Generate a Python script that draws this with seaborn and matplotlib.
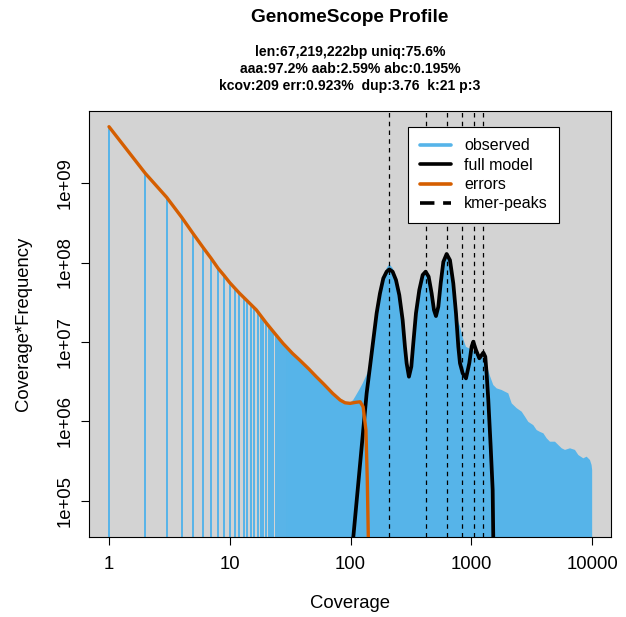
import matplotlib
matplotlib.use("Agg")
import matplotlib.pyplot as plt
from matplotlib.lines import Line2D
from matplotlib.ticker import NullLocator
import seaborn as sns

# ---- text ----
title = "GenomeScope Profile"
summary_lines = [
    "len:67,219,222bp uniq:75.6%",
    "aaa:97.2% aab:2.59% abc:0.195%",
    "kcov:209 err:0.923%  dup:3.76  k:21 p:3",
]
x_label = "Coverage"
y_label = "Coverage*Frequency"
x_ticks = [1, 10, 100, 1000, 10000]
x_tick_labels = ["1", "10", "100", "1000", "10000"]
y_ticks = [1e5, 1e6, 1e7, 1e8, 1e9]
y_tick_labels = ["1e+05", "1e+06", "1e+07", "1e+08", "1e+09"]
legend_labels = ["observed", "full model", "errors", "kmer-peaks"]

# ---- observed histogram: separate low-coverage bins ----
obs_low_cov = list(range(1, 31))
obs_low_val = [5.11e9, 1.32e9, 6.61e8, 3.70e8, 2.28e8, 1.55e8, 1.13e8, 8.45e7,
               6.82e7, 5.57e7, 4.70e7, 4.12e7, 3.66e7, 3.27e7, 2.94e7, 2.67e7,
               2.42e7, 2.15e7, 1.93e7, 1.74e7, 1.58e7, 1.46e7, 1.34e7, 1.24e7,
               1.15e7, 1.07e7, 1.00e7, 9.44e6, 8.95e6, 8.49e6]

# ---- observed histogram: dense part (bins merge into a filled profile) ----
obs_cov = [30, 35, 38, 45, 52, 60, 71, 80, 87, 95, 100, 105, 110, 118, 126,
           135, 145, 154, 164, 175, 187, 199, 209, 223, 238, 253, 270, 282,
           291, 304, 318, 331, 348, 371, 395, 418, 443, 469, 490, 509, 533,
           557, 586, 624, 665, 709, 746, 780, 805, 830, 860, 902, 960, 1026,
           1100, 1164, 1240, 1300, 1350, 1420, 1518, 1620, 1782, 1897, 2022,
           2088, 2157, 2374, 2609, 2780, 2960, 3257, 3472, 3700, 3945, 4200,
           4476, 4922, 5248, 5598, 5960, 6550, 7206, 7680, 8450, 9000, 9590,
           9890, 10000]
obs_val = [8.5e6, 6.7e6, 5.9e6, 4.6e6, 3.66e6, 2.95e6, 2.26e6, 1.95e6, 1.77e6,
           1.72e6, 1.74e6, 1.86e6, 2.09e6, 2.51e6, 3.02e6, 3.80e6, 5.0e6,
           1.07e7, 2.34e7, 4.27e7, 6.76e7, 8.51e7, 9.55e7, 8.51e7, 6.31e7,
           3.89e7, 1.86e7, 8.5e6, 5.25e6, 3.55e6, 4.79e6, 9.3e6, 2.24e7,
           4.47e7, 7.08e7, 7.94e7, 6.76e7, 3.98e7, 2.45e7, 2.04e7, 2.69e7,
           5.5e7, 1.05e8, 1.32e8, 1.10e8, 5.75e7, 2.63e7, 1.78e7, 1.58e7,
           1.29e7, 1.07e7, 8.7e6, 8.3e6, 7.9e6, 7.4e6, 6.6e6, 6.5e6, 5.6e6,
           4.9e6, 3.8e6, 2.88e6, 2.61e6, 2.49e6, 2.37e6, 2.26e6, 1.95e6,
           1.69e6, 1.47e6, 1.33e6, 1.15e6, 9.9e5, 9.0e5, 7.8e5, 7.4e5, 7.1e5,
           6.15e5, 5.57e5, 5.57e5, 5.06e5, 4.6e5, 4.39e5, 4.6e5, 4.39e5,
           3.79e5, 3.44e5, 3.61e5, 3.28e5, 2.84e5, 2.45e5]

# ---- fitted full model ----
model_cov = [103, 105.3, 135.8, 144.8, 154.2, 164.3, 175.1, 186.6, 198.9, 209.4,
             222.9, 237.6, 253.1, 269.8, 281.9, 291.1, 304.2, 318.3, 330.5,
             347.8, 370.6, 395.2, 418.1, 442.8, 468.9, 490.2, 509.2, 532.6,
             557.1, 586.2, 624.0, 665.1, 708.5, 745.9, 779.9, 805.0, 847.3,
             902.4, 961.0, 1005, 1037, 1092, 1164, 1217, 1256, 1304, 1337,
             1381, 1445, 1501, 1518, 1525]
model_val = [2.0e4, 3.5e4, 2.26e6, 4.9e6, 1.06e7, 2.30e7, 4.09e7, 6.32e7, 7.67e7,
             8.2e7, 7.67e7, 6.03e7, 3.90e7, 1.89e7, 8.73e6, 5.40e6, 3.66e6,
             4.90e6, 9.62e6, 2.30e7, 4.51e7, 6.97e7, 7.67e7, 6.64e7, 4.09e7,
             2.53e7, 2.12e7, 2.78e7, 5.47e7, 1.02e8, 1.28e8, 1.07e8, 5.47e7,
             2.30e7, 8.73e6, 5.40e6, 4.04e6, 3.49e6, 5.40e6, 8.73e6, 1.01e7,
             7.92e6, 6.24e6, 6.85e6, 7.35e6, 6.53e6, 4.04e6, 1.86e6, 4.82e5,
             1.38e5, 3.5e4, 2.0e4]

# ---- error k-mer model ----
err_cov = [1, 2, 3, 4, 5, 6, 7, 8, 9, 10, 12, 14, 16.6, 20, 24, 27.6, 33, 38,
           45, 52, 60, 71, 82, 90, 99, 110, 120, 127, 134, 137.5, 140.2, 141]
err_val = [5.11e9, 1.32e9, 6.61e8, 3.70e8, 2.28e8, 1.55e8, 1.13e8, 8.45e7,
           6.82e7, 5.57e7, 4.12e7, 3.27e7, 2.53e7, 1.74e7, 1.24e7, 9.6e6,
           7.2e6, 5.9e6, 4.6e6, 3.66e6, 2.95e6, 2.26e6, 1.86e6, 1.72e6,
           1.69e6, 1.74e6, 1.77e6, 1.53e6, 7.8e5, 1.84e5, 3.5e4, 2.0e4]

# ---- k-mer peak positions (multiples of kcov) ----
peak_cov = [209, 418, 627, 836, 1045, 1254]

COL_OBS = "#56B4E9"
COL_ERR = "#D55E00"
COL_BG = "#D3D3D3"

sns.set_theme(style="ticks")
plt.rcParams["font.family"] = ["Liberation Sans", "DejaVu Sans"]
plt.rcParams["text.color"] = "black"
plt.rcParams["axes.labelcolor"] = "black"

W, H = 626, 617
fig = plt.figure(figsize=(W / 100, H / 100), dpi=100)
L, R, T, B = 89, 611, 111, 537
ax = fig.add_axes([L / W, 1 - B / H, (R - L) / W, (B - T) / H])
ax.set_facecolor(COL_BG)
ax.set_xscale("log")
ax.set_yscale("log")
ax.set_xlim(10 ** -0.1656, 10 ** 4.156)
ax.set_ylim(10 ** 4.547, 10 ** 9.906)

floor = 1.0
ax.vlines(obs_low_cov, floor, obs_low_val, color=COL_OBS, lw=1.4, zorder=2)
ax.fill_between(obs_cov, floor, obs_val, color=COL_OBS, lw=0, zorder=2)

sns.lineplot(x=model_cov, y=model_val, color="black", lw=2.7, ax=ax,
             sort=False, estimator=None, legend=False, zorder=3)
sns.lineplot(x=err_cov, y=err_val, color=COL_ERR, lw=2.4, ax=ax,
             sort=False, estimator=None, legend=False, zorder=4)
for p in peak_cov:
    ax.axvline(p, color="black", lw=0.9, dashes=(3.6, 3.4), zorder=5)

# axes frame and ticks
for s in ax.spines.values():
    s.set_visible(True)
    s.set_color("black")
    s.set_linewidth(0.8)
ax.xaxis.set_minor_locator(NullLocator())
ax.yaxis.set_minor_locator(NullLocator())
ax.set_xticks(x_ticks)
ax.set_xticklabels(x_tick_labels)
ax.set_yticks(y_ticks)
ax.set_yticklabels(y_tick_labels, rotation=90, va="center")
ax.tick_params(axis="both", which="major", length=6, width=0.8,
               color="black", labelsize=13.3, labelcolor="black")
ax.tick_params(axis="x", pad=8)
ax.tick_params(axis="y", pad=5.4)

ax.set_xlabel(x_label, fontsize=13.3, va="center", color="black")
ax.xaxis.set_label_coords(0.5, (B - 603) / (B - T))
ax.set_ylabel(y_label, fontsize=13.3, va="center", color="black")
ax.yaxis.set_label_coords((24 - L) / (R - L), 0.5)

# titles
cx = ((L + R) / 2) / W
fig.text(cx, 1 - 18 / H, title, ha="center", va="center",
         fontsize=13.7, fontweight="bold", color="black")
for yy, line in zip([52, 69, 86], summary_lines):
    fig.text(cx, 1 - yy / H, line, ha="center", va="center",
             fontsize=10.1, fontweight="bold", color="black")

# legend
handles = [
    Line2D([], [], color=COL_OBS, lw=2.6),
    Line2D([], [], color="black", lw=2.6),
    Line2D([], [], color=COL_ERR, lw=2.6),
    Line2D([], [], color="black", lw=2.6, dashes=(4, 2.4)),
]
leg = ax.legend(handles, legend_labels, loc="upper left",
                bbox_to_anchor=(408 / W, 1 - 127 / H),
                bbox_transform=fig.transFigure, borderaxespad=0,
                fontsize=11.5, handlelength=2.0, handletextpad=0.8,
                labelspacing=0.27, borderpad=0.72, fancybox=False,
                framealpha=1, edgecolor="black", facecolor="white")
leg.get_frame().set_linewidth(0.8)
for t in leg.get_texts():
    t.set_color("black")
leg.set_zorder(10)

fig.savefig("out.png", dpi=100)
